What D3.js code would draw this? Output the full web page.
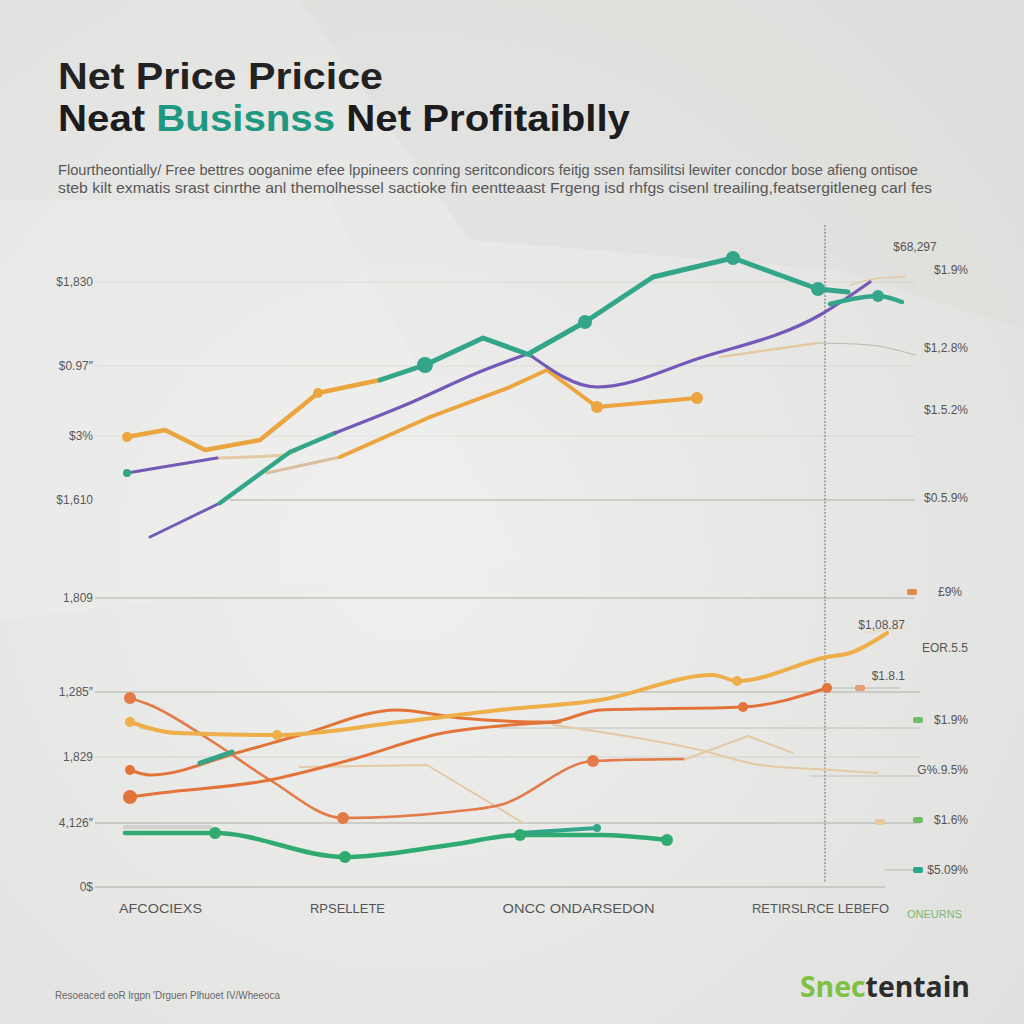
<!DOCTYPE html>
<html><head><meta charset="utf-8">
<script src="https://cdn.jsdelivr.net/npm/d3@7"></script>
<style>body{margin:0;background:#e6e6e4;} svg{display:block}</style>
</head><body><svg id="c" width="1024" height="1024"></svg>
<script>
// ---------------- DATA ----------------
// x: period index, y: value index
const orangeA  = [[1.35,45.0],[3.25,45.7],[5.25,43.7],[8.0,44.7],[10.9,49.4],[14.0,50.7]];
const tealA    = [[14.0,50.7],[16.25,52.2],[19.15,54.9],[21.5,53.2]];
const purpleA  = [[21.5,53.2],[24.85,50.0],[30.0,52.9],[36.0,57.2],[38.5,60.5]];
const purpleB1 = [[2.5,35.0],[4.25,36.7],[6.0,38.4]];
const tealB1   = [[6.0,38.4],[9.5,43.5],[11.75,45.4]];
const purpleB2 = [[11.75,45.4],[15.5,48.4],[18.85,51.4],[21.5,53.4]];
const tealB2   = [[21.5,53.4],[24.25,56.5],[27.65,61.0],[31.65,62.9],[35.9,59.8],[37.4,59.5]];
const greenTail= [[36.5,58.3],[38.9,59.1],[40.1,58.5]];
const purpleC  = [[1.35,41.4],[5.85,42.9]];
const tanC     = [[5.85,42.9],[9.15,43.2],[10.5,44.4]];
const tanD     = [[8.35,41.4],[12.0,43.0]];
const orangeB  = [[12.0,43.0],[16.5,47.0],[20.5,50.0],[22.35,51.7],[24.85,48.0],[29.85,48.9]];
const tanE     = [[31.0,53.0],[35.9,54.4]];
const grayR1   = [[35.9,54.4],[38.5,54.2],[40.75,53.2]];
const tanR2    = [[37.5,60.2],[39.0,60.9],[40.25,61.0]];

const redDesc   = [[1.5,18.9],[2.5,18.2],[5.5,14.7],[8.5,10.7],[12.15,6.9],[17.5,7.5],[20.0,8.2],[24.65,12.6],[29.15,12.8]];
const yellowRise= [[1.5,16.5],[3.85,15.4],[8.85,15.2],[15.0,16.5],[20.0,17.7],[25.0,18.7],[30.65,21.2],[31.85,20.6],[36.35,23.0],[37.5,23.4],[39.35,25.4]];
const orangeMid = [[1.5,11.7],[2.5,11.2],[7.0,13.5],[10.0,15.2],[14.85,17.7],[18.0,16.9],[22.5,16.5],[25.0,17.7],[32.15,18.0],[36.35,19.9]];
const orangeLow = [[1.5,9.0],[3.0,9.4],[8.5,10.7],[12.5,12.7],[17.15,15.4],[20.5,16.2],[23.0,16.5]];
const tealBit   = [[5.0,12.4],[6.6,13.5]];
const tanFall   = [[10.0,12.0],[16.35,12.2],[20.5,7.2],[21.15,6.4]];
const tanDrift  = [[22.65,16.2],[30.0,13.7],[33.0,12.2],[36.65,11.7],[38.85,11.4]];
const tanPeak   = [[29.15,12.7],[32.4,15.1],[34.65,13.4]];
const tanLeft   = [[2.0,15.9],[3.75,15.4]];
const greenLow  = [[1.25,5.4],[5.75,5.4],[12.25,3.0],[17.5,4.2],[21.0,5.2],[25.0,5.2],[28.35,4.7]];
const tealLow   = [[21.0,5.4],[24.85,5.9]];
const grayLow   = [[1.25,6.0],[5.5,6.0]];
const tanR3     = [[38.25,25.5],[40.25,25.9]];
const grayR4    = [[36.5,19.9],[40.0,19.9]];
const grayR5    = [[39.25,1.7],[40.75,1.7]];

const yTickVals   = [60.5,52.1,45.1,38.7,28.9,19.5,13.0,6.4,0];
const yTickLabels = ["$1,830","$0.97\u2033","$3%","$1,610","1,809","1,285\u2033","1,829","4,126\u2033","0$"];
const extraGrid   = [15.9,11.1];
const xTickVals   = [3.0,12.35,23.9,36.0];
const xTickLabels = ["AFCOCIEXS","RPSELLETE","ONCC ONDARSEDON","RETIRSLRCE LEBEFO"];
const rightLabels = ["$68,297","$1.9%","$1,2.8%","$1.5.2%","$0.5.9%","\u00a39%","$1,08.87","EOR.5.5","$1.8.1","$1.9%","G%.9.5%","$1.6%","$5.09%"];
const rightVals   = [64.0,61.7,53.9,47.7,38.9,29.5,26.2,23.9,21.1,16.7,11.7,6.7,1.7];
const dividerAt   = 36.25;

// ---------------- STYLE ----------------
const C = {teal:"#33a68a", purple:"#7459b6", orange:"#eba43e", orangeR:"#e2743a", red:"#e27b47",
           tan:"#e3caa4", green:"#2fab70", gray:"#b9b9b1", yellow:"#eeae48"};
const seriesList = [
  {d:tanC, c:C.tan, w:3}, {d:tanD, c:"#d9bfa0", w:3}, {d:tanE, c:C.tan, w:2.5},
  {d:grayR1, c:C.gray, w:1.2}, {d:tanR2, c:C.tan, w:1.5},
  {d:purpleC, c:C.purple, w:3, m:[0], mr:4, mc:C.teal},
  {d:purpleB1, c:C.purple, w:3, lin:1}, {d:tealB1, c:C.teal, w:4.5, lin:1}, {d:purpleB2, c:C.purple, w:3.2},
  {d:orangeB, c:C.orange, w:4, m:[4,5], mr:6, lin:1},
  {d:orangeA, c:C.orange, w:4.5, m:[0,4], mr:5, lin:1},
  {d:purpleA, c:C.purple, w:3.2},
  {d:tealA, c:C.teal, w:5, m:[1], mr:8, lin:1},
  {d:tealB2, c:C.teal, w:5, m:[1,3,4], mr:7, lin:1},
  {d:greenTail, c:C.teal, w:4.5, m:[1], mr:6},
  // bottom
  {d:tanFall, c:C.tan, w:2, lin:1}, {d:tanDrift, c:C.tan, w:2}, {d:tanPeak, c:C.tan, w:2, lin:1}, {d:tanLeft, c:C.tan, w:2},
  {d:grayLow, c:"#cfd2cd", w:4}, {d:tanR3, c:"#e7dcc4", w:2}, {d:grayR4, c:C.gray, w:1.2}, {d:grayR5, c:C.gray, w:1},
  {d:redDesc, c:C.red, w:2.6, m:[0,4,7], mr:6},
  {d:orangeLow, c:C.orangeR, w:3, m:[0], mr:7},
  {d:orangeMid, c:C.orangeR, w:3, m:[0,8,9], mr:5},
  {d:yellowRise, c:C.yellow, w:4, m:[0,2,7], mr:5},
  {d:tealBit, c:C.teal, w:5},
  {d:greenLow, c:C.green, w:4.5, m:[1,2,4,6], mr:6},
  {d:tealLow, c:C.teal, w:4, m:[1], mr:4}
];

// ---------------- DRAW ----------------
const svg = d3.select("#c");
const x = d3.scaleLinear().domain([0,40]).range([100,900]);
const y = d3.scaleLinear().domain([0,64]).range([887,247]);

const defs = svg.append("defs");
const bg = defs.append("radialGradient").attr("id","bg").attr("cx","40%").attr("cy","55%").attr("r","75%");
bg.append("stop").attr("offset","0%").attr("stop-color","#efefed");
bg.append("stop").attr("offset","100%").attr("stop-color","#e0e0de");
svg.append("rect").attr("width",1024).attr("height",1024).attr("fill","url(#bg)");
svg.append("path").attr("d","M300,0 L1024,0 L1024,330 L840,270 L470,240 Z").attr("fill","#dcdcda").attr("opacity",0.45);
svg.append("path").attr("d","M0,200 L330,200 L520,560 L0,620 Z").attr("fill","#f2f2f0").attr("opacity",0.35);

// gridlines
const gridFrom = [-0.25,-0.25,-0.25,6.5,-0.25,-0.25,-0.25,-0.25,-0.25];
const gridTo   = [40.75,40.75,40.75,40.75,40.75,41,41,41,39.25];
const gridOp   = [0.25,0.2,0.2,0.9,0.9,0.9,0.35,0.9,0.9];
svg.append("g").selectAll("line").data(yTickVals).join("line")
  .attr("x1",(d,i)=>x(gridFrom[i])).attr("x2",(d,i)=>x(gridTo[i]))
  .attr("y1",d=>y(d)).attr("y2",d=>y(d))
  .attr("stroke","#a9a9a1").attr("stroke-width",1).attr("opacity",(d,i)=>gridOp[i]);
svg.append("g").selectAll("line").data(extraGrid).join("line")
  .attr("x1",(d,i)=>x(i?35.5:20)).attr("x2",x(41)).attr("y1",d=>y(d)).attr("y2",d=>y(d))
  .attr("stroke","#a9a9a1").attr("opacity",0.6);

// divider
svg.append("line").attr("x1",x(dividerAt)).attr("x2",x(dividerAt)).attr("y1",225).attr("y2",882)
  .attr("stroke","#6f6f6f").attr("stroke-width",1).attr("stroke-dasharray","2,1.5");

// axes
const yAxis = d3.axisLeft(y).tickValues(yTickVals).tickFormat((d,i)=>yTickLabels[i]).tickSize(0).tickPadding(0);
const ga = svg.append("g").attr("transform","translate(93,0)").call(yAxis);
ga.select(".domain").remove();
ga.selectAll("text").attr("font-family","Liberation Sans Narrow, Liberation Sans, sans-serif").attr("font-size",12).attr("fill","#5a5a5a");

const xAxis = d3.axisBottom(x).tickValues(xTickVals).tickFormat((d,i)=>xTickLabels[i]).tickSize(0).tickPadding(0);
const gx = svg.append("g").attr("transform","translate(0,904)").call(xAxis);
gx.select(".domain").remove();
gx.selectAll("text").attr("font-family","Liberation Sans Narrow, Liberation Sans, sans-serif").attr("font-size",13).attr("fill","#555")
  .attr("textLength",(d,i)=>[83,75,152,137][i]).attr("lengthAdjust","spacingAndGlyphs");
svg.append("text").attr("x",907).attr("y",918).attr("font-family","Liberation Sans Narrow, sans-serif").attr("font-size",10)
  .attr("fill","#7fb86a").attr("textLength",55).attr("lengthAdjust","spacingAndGlyphs").text("ONEURNS");

// lines
const lineS = d3.line().x(d=>x(d[0])).y(d=>y(d[1])).curve(d3.curveMonotoneX);
const lineL = d3.line().x(d=>x(d[0])).y(d=>y(d[1]));
const gl = svg.append("g");
seriesList.forEach(s=>{
  gl.append("path").attr("d",(s.lin?lineL:lineS)(s.d)).attr("fill","none").attr("stroke",s.c).attr("stroke-width",s.w)
    .attr("stroke-linecap","round").attr("stroke-linejoin","round");
});
seriesList.forEach(s=>{
  if(!s.m) return;
  gl.selectAll(null).data(s.m.map(i=>s.d[i])).join("circle")
    .attr("cx",d=>x(d[0])).attr("cy",d=>y(d[1])).attr("r",s.mr).attr("fill",s.mc||s.c);
});

// right side small markers
const rMarks = [[40.6,29.5,"#e0874a"],[40.9,16.7,"#6fbf6a"],[40.9,6.7,"#6fbf6a"],[39.0,6.5,"#e8c89a"],[40.9,1.7,"#2aa889"],[38.0,19.9,"#e2a070"]];
svg.append("g").selectAll("rect").data(rMarks).join("rect")
  .attr("x",d=>x(d[0])-5).attr("y",d=>y(d[1])-3).attr("width",10).attr("height",6).attr("rx",2).attr("fill",d=>d[2]);

// right labels
const rx = [915,968,968,968,968,962,905,968,905,968,968,968,968];
const ranchor = ["middle","end","end","end","end","end","end","end","end","end","end","end","end"];
svg.append("g").selectAll("text").data(rightLabels).join("text")
  .attr("x",(d,i)=>rx[i]).attr("y",(d,i)=>y(rightVals[i])+4).attr("text-anchor",(d,i)=>ranchor[i])
  .attr("font-family","Liberation Sans Narrow, Liberation Sans, sans-serif").attr("font-size",12).attr("fill","#555")
  .text(d=>d);

// titles
svg.append("text").attr("x",58).attr("y",89).attr("font-family","Liberation Sans, Arial, sans-serif")
  .attr("font-weight",700).attr("font-size",37).attr("fill","#222")
  .attr("textLength",325).attr("lengthAdjust","spacingAndGlyphs").text("Net Price Pricice");
const t2 = svg.append("text").attr("x",58).attr("y",131).attr("font-family","Liberation Sans, Arial, sans-serif")
  .attr("font-weight",700).attr("font-size",37).attr("fill","#1c1c1c")
  .attr("textLength",572).attr("lengthAdjust","spacingAndGlyphs");
t2.append("tspan").text("Neat ");
t2.append("tspan").attr("fill","#1f9882").text("Busisnss");
t2.append("tspan").text(" Net Profitaiblly");

const sub = ["Flourtheontially/ Free bettres ooganime efee lppineers conring seritcondicors feitjg ssen famsilitsi lewiter concdor bose afieng ontisoe",
             "steb kilt exmatis srast cinrthe anl themolhessel sactioke fin eentteaast Frgeng isd rhfgs cisenl treailing,featsergitleneg carl fes"];
svg.append("g").selectAll("text").data(sub).join("text")
  .attr("x",58).attr("y",(d,i)=>175+i*18).attr("font-family","Liberation Sans Narrow, Liberation Sans, sans-serif")
  .attr("font-size",15).attr("fill","#585858").attr("textLength",(d,i)=>[860,874][i]).attr("lengthAdjust","spacingAndGlyphs").text(d=>d);

// footer
svg.append("text").attr("x",55).attr("y",999).attr("font-family","Liberation Sans Narrow, sans-serif").attr("font-size",10)
  .attr("fill","#666").attr("textLength",225).attr("lengthAdjust","spacingAndGlyphs")
  .text("Resoeaced  eoR  lrgpn  'Drguen Plhuoet IV/Wheeoca");
const logo = svg.append("text").attr("x",800).attr("y",997).attr("font-family","Open Sans, Noto Sans, sans-serif")
  .attr("font-weight",700).attr("font-size",28).attr("textLength",170).attr("lengthAdjust","spacingAndGlyphs");
logo.append("tspan").attr("fill","#7cc142").text("Snec");
logo.append("tspan").attr("fill","#2c2c2c").text("tentain");
</script></body></html>
